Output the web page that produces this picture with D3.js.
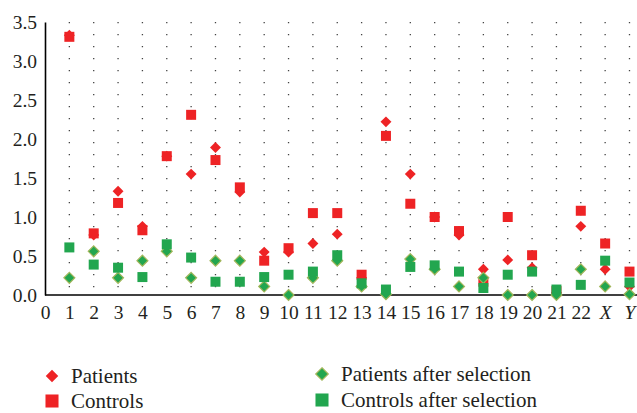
<!DOCTYPE html>
<html>
<head>
<meta charset="utf-8">
<script src="https://cdnjs.cloudflare.com/ajax/libs/d3/7.8.5/d3.min.js"></script>
<style>
  body { margin: 0; background: #fff; }
</style>
</head>
<body>
<script>
(function () {

    // chromosomes on the x axis
    var categories = ["0", "1", "2", "3", "4", "5", "6", "7", "8", "9", "10", "11", "12",
        "13", "14", "15", "16", "17", "18", "19", "20", "21", "22", "X", "Y"];

    // values per chromosome 1..22, X, Y
    var patients = [3.33, 0.77, 1.33, 0.88, 1.78, 1.55, 1.89, 1.32, 0.55, 0.55, 0.66, 0.78,
        0.22, 2.22, 1.55, 1.00, 0.77, 0.33, 0.45, 0.35, 0.03, 0.88, 0.33, 0.11];
    var controls = [3.31, 0.79, 1.18, 0.83, 1.78, 2.31, 1.73, 1.38, 0.44, 0.60, 1.05, 1.05,
        0.26, 2.04, 1.17, 1.00, 0.82, 0.17, 1.00, 0.51, 0.05, 1.08, 0.66, 0.30];
    var patientsAfter = [0.22, 0.56, 0.22, 0.44, 0.56, 0.22, 0.44, 0.44, 0.11, 0.00, 0.22, 0.44,
        0.11, 0.01, 0.46, 0.33, 0.11, 0.22, 0.00, 0.00, 0.00, 0.33, 0.11, 0.01];
    var controlsAfter = [0.61, 0.39, 0.35, 0.23, 0.65, 0.48, 0.17, 0.17, 0.23, 0.26, 0.30, 0.51,
        0.15, 0.07, 0.36, 0.38, 0.30, 0.09, 0.26, 0.30, 0.07, 0.13, 0.44, 0.16];

    var yTicks = [0, 0.5, 1, 1.5, 2, 2.5, 3, 3.5];

    var width = 637, height = 413;
    var red = "#ee2325", green = "#22a64f", greenEdge = "#a2b65a";
    var font = "Liberation Serif";

    var svg = d3.select("body").append("svg")
        .attr("width", width)
        .attr("height", height)
        .attr("font-family", font);

    var x = d3.scalePoint()
        .domain(categories)
        .range([45, 629.5]);

    var y = d3.scaleLinear()
        .domain([0, 3.5])
        .range([295, 22]);

    // dotted vertical grid
    svg.append("g")
        .selectAll("line")
        .data(categories.slice(1))
        .enter()
        .append("line")
        .attr("x1", function (d) { return x(d); })
        .attr("x2", function (d) { return x(d); })
        .attr("y1", y(3.5))
        .attr("y2", y(0))
        .attr("stroke", "#444")
        .attr("stroke-width", 1.3)
        .attr("stroke-dasharray", "1.3,10.7");

    // y axis
    var yAxis = svg.append("g")
        .attr("transform", "translate(45,0)")
        .call(d3.axisLeft(y).tickValues(yTicks).tickFormat(d3.format(".1f")).tickSize(0).tickPadding(8))
        .attr("font-family", font)
        .attr("font-size", 19.5);
    yAxis.select(".domain").attr("stroke", "#000").attr("stroke-width", 1.6);
    yAxis.selectAll("text").attr("fill", "#231f20");

    // x axis
    var xAxis = svg.append("g")
        .attr("transform", "translate(0," + y(0) + ")")
        .call(d3.axisBottom(x).tickSize(0).tickPadding(10))
        .attr("font-family", font)
        .attr("font-size", 19.5);
    xAxis.select(".domain").remove();
    xAxis.append("line")
        .attr("x1", 45).attr("x2", width)
        .attr("stroke", "#000").attr("stroke-width", 1.6);
    xAxis.selectAll(".tick text")
        .attr("fill", "#231f20")
        .attr("font-style", function (d) { return (d == "X" || d == "Y") ? "italic" : "normal"; });

    var diamond = d3.symbol().type(d3.symbolDiamond2).size(76);
    var square = d3.symbol().type(d3.symbolSquare).size(100);

    var series = [
        { name: "Patients", values: patients, shape: diamond, fill: red, stroke: "none" },
        { name: "Controls", values: controls, shape: square, fill: red, stroke: "none" },
        { name: "Patients after selection", values: patientsAfter, shape: diamond, fill: green, stroke: greenEdge },
        { name: "Controls after selection", values: controlsAfter, shape: square, fill: green, stroke: "none" }
    ];

    series.forEach(function (s) {
        svg.append("g")
            .selectAll("path")
            .data(s.values)
            .enter()
            .append("path")
            .attr("d", s.shape)
            .attr("transform", function (d, i) {
                return "translate(" + x(categories[i + 1]) + "," + y(d) + ")";
            })
            .attr("fill", s.fill)
            .attr("stroke", s.stroke)
            .attr("stroke-width", 1.2);
    });

    // legend
    var legendPos = [[52, 376], [52, 401], [322, 374], [322, 400]];
    var legendShape = [
        d3.symbol().type(d3.symbolDiamond2).size(100),
        d3.symbol().type(d3.symbolSquare).size(170),
        d3.symbol().type(d3.symbolDiamond2).size(100),
        d3.symbol().type(d3.symbolSquare).size(170)
    ];

    var legend = svg.append("g")
        .selectAll("g")
        .data(series)
        .enter()
        .append("g")
        .attr("transform", function (d, i) {
            return "translate(" + legendPos[i][0] + "," + legendPos[i][1] + ")";
        });

    legend.append("path")
        .attr("d", function (d, i) { return legendShape[i](); })
        .attr("fill", function (d) { return d.fill; })
        .attr("stroke", function (d) { return d.stroke; })
        .attr("stroke-width", 1.2);

    legend.append("text")
        .attr("x", 19)
        .attr("dy", "0.33em")
        .attr("font-size", 21)
        .attr("font-family", font)
        .attr("fill", "#231f20")
        .text(function (d) { return d.name; });

})();
</script>
</body>
</html>
